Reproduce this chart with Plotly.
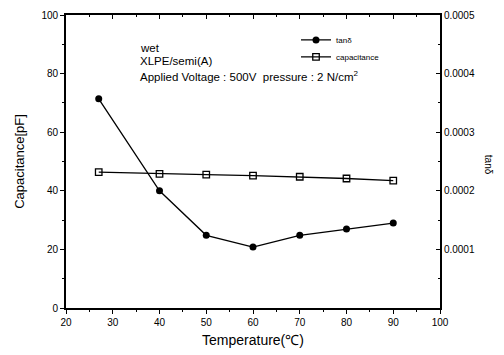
import plotly.graph_objects as go

temperature = [27, 40, 50, 60, 70, 80, 90]
tan_delta = [0.000357, 0.000200, 0.000124, 0.000104, 0.000124, 0.000135, 0.000145]
capacitance = [46.4, 45.8, 45.5, 45.2, 44.8, 44.2, 43.5]

x_ticks = [20, 30, 40, 50, 60, 70, 80, 90, 100]
y_ticks = [0, 20, 40, 60, 80, 100]
y2_ticks = [0.0001, 0.0002, 0.0003, 0.0004, 0.0005]
y2_labels = ["0.0001", "0.0002", "0.0003", "0.0004", "0.0005"]

FONT = "Liberation Sans, Arial, sans-serif"

fig = go.Figure()
fig.add_trace(go.Scatter(
    x=temperature, y=tan_delta, name="tanδ", yaxis="y2", legend="legend",
    mode="lines+markers", line=dict(color="black", width=1.3),
    marker=dict(symbol="circle", size=7, color="black")))
fig.add_trace(go.Scatter(
    x=temperature, y=capacitance, name="capacitance", legend="legend2",
    mode="lines+markers", line=dict(color="black", width=1.3),
    marker=dict(symbol="square-open", size=6.5, color="black", line=dict(width=1.3))))
# invisible trace to anchor top axis
fig.add_trace(go.Scatter(x=[20, 100], y=[0, 0], xaxis="x2", mode="markers",
                         marker=dict(opacity=0), showlegend=False, hoverinfo="skip"))

axis_common = dict(showgrid=False, zeroline=False, showline=True, linecolor="black",
                   linewidth=1.8, tickcolor="black", automargin=False,
                   tickfont=dict(family=FONT, size=10, color="black"))

leg_common = dict(xanchor="left", yanchor="middle", bgcolor="rgba(0,0,0,0)",
                  font=dict(family=FONT, size=8, color="black"), itemwidth=30)

fig.update_layout(
    width=504, height=355,
    margin=dict(l=58, r=72, t=7, b=55),
    paper_bgcolor="white", plot_bgcolor="white",
    font=dict(family=FONT, color="black"),
    showlegend=True,
    legend=dict(x=0.615, y=0.915, **leg_common),
    legend2=dict(x=0.615, y=0.857, **leg_common),
    xaxis=dict(range=[20, 100], tickvals=x_ticks, ticks="outside", ticklen=4,
               minor=dict(dtick=5, ticks="outside", ticklen=2, tickcolor="black"),
               title=dict(text="Temperature(℃)", font=dict(family=FONT, size=14), standoff=8),
               **axis_common),
    xaxis2=dict(range=[20, 100], overlaying="x", side="top", tickvals=x_ticks,
                showticklabels=False, ticks="inside", ticklen=4,
                minor=dict(dtick=5, ticks="inside", ticklen=2, tickcolor="black"),
                **axis_common),
    yaxis=dict(range=[0, 100], tickvals=y_ticks, ticks="outside", ticklen=4,
               minor=dict(dtick=10, ticks="outside", ticklen=2, tickcolor="black"),
               title=dict(text="Capacitance[pF]", font=dict(family=FONT, size=13), standoff=14),
               **axis_common),
    yaxis2=dict(range=[0, 0.0005], overlaying="y", side="right", tickvals=y2_ticks,
                ticktext=y2_labels, ticks="inside", ticklen=4,
                minor=dict(tickvals=[0.00005, 0.00015, 0.00025, 0.00035, 0.00045],
                           ticks="inside", ticklen=2, tickcolor="black"),
                **axis_common),
)

fig.add_annotation(text="tanδ", xref="paper", yref="paper", x=1.15, y=0.49,
                   showarrow=False, textangle=90, font=dict(family=FONT, size=10))
fig.add_annotation(text="wet", xref="paper", yref="paper", x=0.193, y=0.915,
                   xanchor="left", showarrow=False, font=dict(family=FONT, size=11.5))
fig.add_annotation(text="XLPE/semi(A)", xref="paper", yref="paper", x=0.193, y=0.869,
                   xanchor="left", showarrow=False, font=dict(family=FONT, size=11.5))
fig.add_annotation(text="Applied Voltage : 500V  pressure : 2 N/cm<sup>2</sup>",
                   xref="paper", yref="paper", x=0.193, y=0.823,
                   xanchor="left", showarrow=False, font=dict(family=FONT, size=11.5))

fig.write_html("out.html")
